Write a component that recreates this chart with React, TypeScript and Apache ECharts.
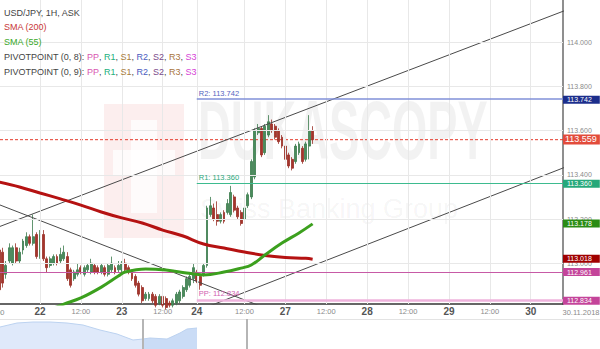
import React, { useEffect, useRef } from "react";
import * as echarts from "echarts";

const FONT = '"Liberation Sans", Arial, sans-serif';

// ---- Hourly candles (index = hour slot) ----
const candleOpen = [
  113.06, 113.05, 112.95, 113.01, 113.0, 113.07, 113.01, 113.06, 113.08, 113.12,
  113.09, 113.13, 113.03, 113.13, 113.02, 112.99, 113.0, 113.03, 113.01, 113.02,
  113.03, 112.97, 112.93, 112.95, 112.98, 112.95, 112.97, 112.96, 112.99, 112.98,
  112.96, 112.98, 112.95, 112.97, 112.98, 112.97, 112.97, 113.0, 112.98, 112.96,
  112.94, 112.91, 112.89, 112.84, 112.84, 112.86, 112.85, 112.82, 112.85, 112.84,
  112.82, 112.81, 112.82, 112.83, 112.85, 112.88, 112.9, 112.93, 112.96, 112.94,
  112.95, 112.99, 113.22, 113.25, 113.22, 113.19, 113.23, 113.23, 113.22, 113.3,
  113.25, 113.23, 113.2, 113.26, 113.3, 113.39, 113.59, 113.61, 113.5, 113.58,
  113.63, 113.62, 113.6, 113.57, 113.53, 113.49, 113.47, 113.46, 113.5, 113.52,
  113.47, 113.53, 113.6,
];
const candleClose = [
  112.88, 112.91, 112.99, 113.07, 113.07, 113.01, 113.05, 113.1, 113.12, 113.09,
  113.12, 113.03, 113.13, 113.02, 112.98, 113.02, 113.03, 113.0, 113.04, 113.05,
  112.93, 112.9, 112.96, 112.97, 112.96, 112.98, 112.99, 113.0, 112.96, 112.96,
  112.99, 112.95, 112.99, 113.0, 112.96, 112.99, 113.0, 112.97, 112.96, 112.93,
  112.9, 112.86, 112.83, 112.86, 112.86, 112.83, 112.81, 112.85, 112.81, 112.8,
  112.81, 112.83, 112.86, 112.87, 112.89, 112.93, 112.94, 112.98, 112.92, 112.9,
  112.99, 113.25, 113.26, 113.2, 113.19, 113.22, 113.19, 113.27, 113.32, 113.24,
  113.21, 113.18, 113.25, 113.31, 113.46, 113.6, 113.61, 113.49, 113.62, 113.64,
  113.6, 113.57, 113.55, 113.53, 113.47, 113.44, 113.43, 113.53, 113.54, 113.46,
  113.54, 113.6, 113.559,
];
const candleLow = [
  112.86, 112.89, 112.93, 113.0, 112.99, 113.0, 113.0, 113.04, 113.07, 113.08,
  113.08, 113.02, 113.02, 113.01, 112.96, 112.98, 112.99, 112.99, 113.0, 113.01,
  112.92, 112.89, 112.92, 112.94, 112.95, 112.94, 112.96, 112.95, 112.95, 112.95,
  112.95, 112.94, 112.94, 112.96, 112.95, 112.96, 112.96, 112.96, 112.95, 112.92,
  112.89, 112.85, 112.82, 112.83, 112.83, 112.82, 112.8, 112.81, 112.8, 112.79,
  112.8, 112.8, 112.81, 112.82, 112.84, 112.87, 112.89, 112.91, 112.91, 112.88,
  112.94, 112.98, 113.21, 113.19, 113.17, 113.18, 113.18, 113.22, 113.21, 113.23,
  113.2, 113.17, 113.19, 113.25, 113.29, 113.38, 113.58, 113.48, 113.49, 113.57,
  113.59, 113.56, 113.54, 113.52, 113.46, 113.43, 113.42, 113.45, 113.49, 113.45,
  113.46, 113.47, 113.54,
];
const candleHigh = [
  113.07, 113.07, 113.01, 113.09, 113.08, 113.09, 113.07, 113.11, 113.14, 113.13,
  113.22, 113.14, 113.15, 113.15, 113.03, 113.03, 113.04, 113.04, 113.07, 113.08,
  113.05, 112.98, 112.97, 113.0, 112.99, 112.99, 113.0, 113.02, 113.0, 112.99,
  113.0, 112.99, 113.0, 113.03, 112.99, 113.01, 113.01, 113.02, 112.99, 112.97,
  112.95, 112.92, 112.9, 112.87, 112.87, 112.87, 112.86, 112.86, 112.86, 112.85,
  112.83, 112.84, 112.87, 112.88, 112.9, 112.94, 112.95, 113.0, 112.97, 112.95,
  113.0, 113.26, 113.3, 113.27, 113.28, 113.23, 113.24, 113.29, 113.35, 113.31,
  113.26, 113.24, 113.26, 113.32, 113.47, 113.61, 113.63, 113.62, 113.63, 113.67,
  113.65, 113.63, 113.61, 113.58, 113.54, 113.5, 113.48, 113.54, 113.55, 113.53,
  113.55, 113.67, 113.62,
];

// ---- Moving averages ----
const sma200Hours = [0, 6, 12, 18, 24, 30, 36, 42, 48, 54, 60, 66, 72, 78, 84, 90, 92];
const sma200Values = [
  113.367, 113.345, 113.318, 113.291, 113.263, 113.232, 113.205, 113.182, 113.15,
  113.123, 113.087, 113.069, 113.051, 113.035, 113.026, 113.022, 113.018,
];
const sma55Hours = [16, 19, 24, 30, 35, 37, 43, 49, 55, 60, 66, 71, 74, 78, 83, 88, 92];
const sma55Values = [
  112.797, 112.815, 112.843, 112.892, 112.942, 112.96, 112.974, 112.969, 112.956,
  112.947, 112.96, 112.978, 112.992, 113.037, 113.091, 113.137, 113.178,
];

// ---- Trend lines [hour, price] ----
const channelUpper = [[0, 113.165], [166, 114.143]];
const channelLower = [[60, 112.796], [166, 113.434]];
const downTrend = [[0, 113.265], [78, 112.798]];

// ---- Levels ----
const pivotStartHour = 58;
const levelR2 = 113.742;
const levelR1 = 113.36;
const levelPP = 112.834;
const levelPrevPivot = 112.961;
const lastPrice = 113.559;
const sma200Last = 113.018;
const sma55Last = 113.178;

// ---- Axes ----
const xMin = 0.264;
const xMax = 165.47;
const yTickValues = [113.0, 113.2, 113.4, 113.6, 113.8, 114.0];
const xTickHours = [12, 24, 36, 48, 58, 72, 84, 96, 108, 120, 132, 144, 156];
const xTickLabels = ["22", "12:00", "23", "12:00", "24", "12:00", "27", "12:00", "28", "12:00", "29", "12:00", "30"];
const lastDateLabel = "30.11.2018";

// ---- Navigator ----
const navPos = [0, 17, 33, 50, 67, 83, 100, 117, 133, 143, 150, 167, 180, 187, 197];
const navValues = [22, 26, 27, 27, 26, 24, 19, 15, 9, 10, 11, 10, 16, 20, 21];
const navWindowStart = 143;
const navMarkers = [143, 247];

export default function App() {
  const ref = useRef<HTMLDivElement>(null);

  useEffect(() => {
    if (!ref.current) return;
    const chart = echarts.init(ref.current, null, { renderer: "svg" });

    const candleData = candleOpen.map((o, i) => [i, o, candleClose[i], candleLow[i], candleHigh[i]]);
    const gridLine = { color: "#e8e8e8", width: 1, type: "solid" };

    const yGrid = yTickValues.map((v) => ({
      yAxis: v,
      lineStyle: gridLine,
      label: {
        show: true,
        position: "end",
        distance: 4,
        formatter: v.toFixed(3),
        color: "#8a8a8a",
        fontSize: 7,
        fontFamily: FONT,
      },
    }));
    const xGrid = xTickHours.map((h, i) => {
      const major = !xTickLabels[i].includes(":");
      return {
        xAxis: h,
        lineStyle: gridLine,
        label: {
          show: true,
          position: "start",
          distance: major ? 2.5 : 3.8,
          formatter: xTickLabels[i],
          color: major ? "#555" : "#8a8a8a",
          fontSize: major ? 10 : 7.5,
          fontWeight: major ? "bold" : "normal",
          fontFamily: FONT,
        },
      };
    });

    const tag = (v: number, bg: string, big = false) => ({
      yAxis: v,
      lineStyle: { color: "rgba(0,0,0,0)", width: 1, type: "solid" },
      label: {
        show: true,
        position: "end",
        distance: 0,
        formatter: v.toFixed(3),
        color: "#ffffff",
        backgroundColor: bg,
        fontSize: big ? 9 : 7,
        lineHeight: big ? 9 : 7,
        padding: big ? [1, 3, 0, 2] : [0.5, 8, 0.5, 4],
        fontFamily: FONT,
      },
    });

    const segLine = (v: number, color: string, width: number, text: string, textColor: string) => [
      {
        coord: [pivotStartHour, v],
        lineStyle: { color, width, type: "solid" },
        label: {
          show: true,
          position: "insideStartTop",
          distance: 2,
          formatter: text,
          color: textColor,
          fontSize: 7.5,
          fontFamily: FONT,
        },
      },
      { coord: [xMax, v] },
    ];

    const trend = (pts: number[][]) => ({
      type: "line",
      data: pts,
      symbol: "none",
      clip: true,
      z: 4,
      silent: true,
      lineStyle: { color: "#4a4a4a", width: 1 },
    });

    const navPoints = navPos.map((x, i) => [x, navValues[i]]);
    const navArea = (pts: number[][], fill: string) => ({
      type: "line", xAxisIndex: 1, yAxisIndex: 1, data: pts,
      symbol: "none", silent: true, z: 2,
      lineStyle: { color: "#bcd2f0", width: 1 },
      areaStyle: { color: fill, opacity: 1 },
    });

    const legendRich: any = {};
    const richColors: Record<string, string> = {
      k: "#444444", pp: "#d957b0", r1: "#22b07d", s1: "#a67c3a", r2: "#4a5cc0",
      s2: "#7a4a8a", r3: "#a8743a", s3: "#d63fd6",
    };
    Object.keys(richColors).forEach((k) => {
      legendRich[k] = { fill: richColors[k], fontSize: 9, fontFamily: FONT };
    });
    const pivotText = (n: number) =>
      `{k|PIVOTPOINT (0, ${n}): }{pp|PP}{k|, }{r1|R1}{k|, }{s1|S1}{k|, }{r2|R2}{k|, }{s2|S2}{k|, }{r3|R3}{k|, }{s3|S3}`;

    const option: any = {
      animation: false,
      backgroundColor: "#ffffff",
      grid: [
        { left: 0, top: 0, width: 563, height: 304 },
        { left: 0, top: 319, width: 600, height: 30 },
      ],
      xAxis: [
        {
          type: "value", gridIndex: 0, min: xMin, max: xMax,
          axisLine: { show: true, onZero: false, lineStyle: { color: "#333", width: 1.5 } },
          axisTick: { show: false }, axisLabel: { show: false }, splitLine: { show: false },
        },
        { type: "value", gridIndex: 1, min: 0, max: 600, show: false },
      ],
      yAxis: [
        {
          type: "value", gridIndex: 0, position: "right", min: 112.8155, max: 114.191, scale: true,
          axisLine: { show: true, onZero: false, lineStyle: { color: "#8f8f8f", width: 2 } },
          axisTick: { show: false }, axisLabel: { show: false }, splitLine: { show: false },
        },
        { type: "value", gridIndex: 1, min: 0, max: 30, show: false },
      ],
      series: [
        {
          type: "line", data: [], z: 1, silent: true,
          markLine: { symbol: ["none", "none"], silent: true, animation: false, data: [...yGrid, ...xGrid] },
        },
        trend(channelUpper),
        trend(channelLower),
        trend(downTrend),
        {
          type: "line",
          data: [[xMin, lastPrice], [xMax, lastPrice]],
          symbol: "none", clip: true, z: 2, silent: true,
          lineStyle: { color: "#e53b2c", width: 1, type: [3, 2] },
        },
        {
          type: "candlestick",
          data: candleData,
          encode: { x: 0, y: [1, 2, 3, 4] },
          barWidth: 2.4,
          clip: true,
          z: 3,
          silent: true,
          itemStyle: {
            color: "#4a8c5c", color0: "#a5352c",
            borderColor: "#3b7b4d", borderColor0: "#992e26", borderWidth: 0.8,
          },
        },
        {
          type: "line", data: sma200Hours.map((h, i) => [h, sma200Values[i]]),
          smooth: 0.4, symbol: "none", clip: true, z: 5, silent: true,
          lineStyle: { color: "#b51212", width: 3 },
        },
        {
          type: "line", data: sma55Hours.map((h, i) => [h, sma55Values[i]]),
          smooth: 0.4, symbol: "none", clip: true, z: 5, silent: true,
          lineStyle: { color: "#3ca01e", width: 3 },
        },
        {
          type: "line", data: [], z: 6, silent: true,
          markLine: {
            symbol: ["none", "none"], silent: true, animation: false,
            data: [
              { yAxis: levelPrevPivot, lineStyle: { color: "#c75aa6", width: 1, type: "solid" }, label: { show: false } },
              segLine(levelR2, "#8090d8", 1.5, `R2: ${levelR2.toFixed(3)}`, "#5565c0"),
              segLine(levelR1, "#3dbb8f", 1, `R1: ${levelR1.toFixed(3)}`, "#2aa87a"),
              segLine(levelPP, "#efb3dd", 2.5, `PP: ${levelPP.toFixed(3)}`, "#d060b0"),
              tag(levelR2, "#1c2e8c"),
              tag(lastPrice, "#e24b3b", true),
              tag(levelR1, "#26a87a"),
              tag(sma55Last, "#2a8c14"),
              tag(sma200Last, "#a00000"),
              tag(levelPrevPivot, "#c4449a"),
              tag(levelPP, "#c4449a"),
            ],
          },
        },
        navArea(navPoints.filter((p) => p[0] <= navWindowStart), "#dfe9fa"),
        {
          ...navArea(navPoints.filter((p) => p[0] >= navWindowStart), "#cadcf6"),
          markLine: {
            symbol: ["none", "none"], silent: true, animation: false, label: { show: false },
            data: [
              { yAxis: 30, lineStyle: { color: "#e3e3e3", width: 1, type: "solid" } },
              ...navMarkers.map((x) => ({ xAxis: x, lineStyle: { color: "#b5b5b5", width: 2, type: "solid" } })),
            ],
          },
        },
      ],
      graphic: [
        { type: "rect", z: 0, silent: true, shape: { x: 104, y: 104, width: 80, height: 134 }, style: { fill: "rgba(225,70,70,0.09)" } },
        { type: "rect", z: 0, silent: true, shape: { x: 131, y: 120, width: 26, height: 93 }, style: { fill: "rgba(255,255,255,0.75)" } },
        { type: "rect", z: 0, silent: true, shape: { x: 113, y: 150, width: 62, height: 26 }, style: { fill: "rgba(255,255,255,0.75)" } },
        {
          type: "text", z: 0, silent: true, x: 198, y: 172, scaleX: 0.54,
          style: { text: "DUKASCOPY", fontSize: 84, fontWeight: "bold", fontFamily: FONT, fill: "rgba(0,0,0,0.05)", verticalAlign: "bottom" },
        },
        {
          type: "text", z: 0, silent: true, x: 200, y: 222,
          style: { text: "Swiss Banking Group", fontSize: 27, fontFamily: FONT, fill: "rgba(0,0,0,0.05)", verticalAlign: "bottom" },
        },
        { type: "text", z: 100, x: 4, y: 12.7, style: { text: "USD/JPY, 1H, ASK", fontSize: 9, fontFamily: FONT, fill: "#444", verticalAlign: "middle" } },
        { type: "text", z: 100, x: 4, y: 26.7, style: { text: "SMA (200)", fontSize: 9, fontFamily: FONT, fill: "#c83737", verticalAlign: "middle" } },
        { type: "text", z: 100, x: 4, y: 41.7, style: { text: "SMA (55)", fontSize: 9, fontFamily: FONT, fill: "#3aa828", verticalAlign: "middle" } },
        { type: "text", z: 100, x: 4, y: 56.7, style: { text: pivotText(8), rich: legendRich, fontSize: 9, fontFamily: FONT, verticalAlign: "middle" } },
        { type: "text", z: 100, x: 4, y: 71.7, style: { text: pivotText(9), rich: legendRich, fontSize: 9, fontFamily: FONT, verticalAlign: "middle" } },
        { type: "text", z: 100, x: 4.5, y: 312.5, style: { text: "12:00", fontSize: 7.5, fontFamily: FONT, fill: "#8a8a8a", align: "right", verticalAlign: "middle" } },
        { type: "text", z: 100, x: 581, y: 312.5, style: { text: lastDateLabel, fontSize: 7.5, fontFamily: FONT, fill: "#8a8a8a", align: "center", verticalAlign: "middle" } },
      ],
    };

    chart.setOption(option);
    return () => chart.dispose();
  }, []);

  return (
    <div
      ref={ref}
      style={{ position: "absolute", left: 0, top: 0, width: 600, height: 349, background: "#fff" }}
    />
  );
}
